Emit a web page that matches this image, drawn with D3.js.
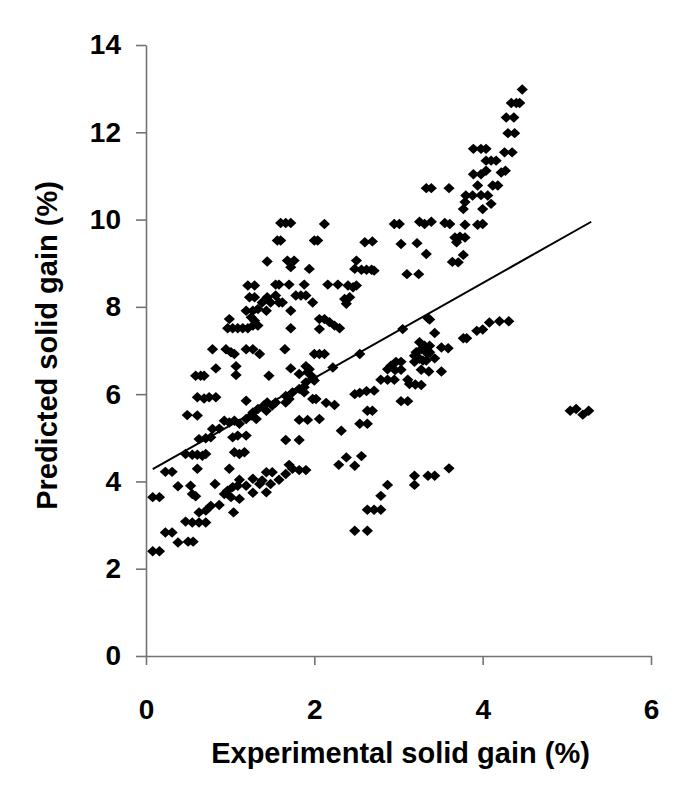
<!DOCTYPE html>
<html><head><meta charset="utf-8">
<script src="https://cdn.jsdelivr.net/npm/d3@7"></script>
<style>body{margin:0;background:#fff} svg{display:block}</style>
</head><body><svg id="c" width="675" height="802"></svg>
<script>
const xTicks = [0, 2, 4, 6];
const yTicks = [0, 2, 4, 6, 8, 10, 12, 14];
const xTitle = "Experimental solid gain (%)";
const yTitle = "Predicted solid gain (%)";

// [experimental, predicted] solid gain (%)
const lowerBand = [[0.08,2.40],[0.16,2.40],[0.38,2.60],[0.50,2.62],[0.56,2.62],[0.23,2.83],[0.31,2.83],[0.08,3.64],[0.16,3.64],[0.23,4.22],[0.31,4.22],[0.38,3.89],[0.53,3.90],[0.55,3.71],[0.59,3.66],[0.47,3.08],[0.55,3.06],[0.63,3.06],[0.71,3.06],[0.63,3.29],[0.71,3.33],[0.77,3.44],[0.87,3.46],[0.82,3.94],[0.93,3.71],[0.97,3.79],[1.03,3.87],[1.01,3.64],[1.09,3.90],[1.11,4.04],[1.11,3.60],[1.19,3.90],[1.27,4.06],[1.27,3.74],[1.35,3.94],[1.38,4.02],[1.43,4.21],[1.43,3.75],[1.48,3.94],[1.50,4.21],[1.58,4.04],[1.66,4.17],[1.70,4.38],[1.74,4.29],[1.82,4.26],[1.90,4.26],[1.04,3.29],[0.99,4.29]];
const middleBand = [[0.59,6.42],[0.65,6.42],[0.69,6.42],[0.83,6.59],[1.07,6.64],[1.07,6.44],[1.46,6.42],[1.72,6.59],[1.82,6.46],[1.90,6.64],[1.94,6.57],[1.98,6.39],[2.00,6.31],[2.22,6.61],[0.61,5.93],[0.69,5.90],[0.75,5.93],[0.83,5.93],[1.19,5.85],[0.49,5.52],[0.61,5.51],[0.79,5.20],[0.87,5.21],[0.63,4.97],[0.71,4.99],[0.77,5.01],[0.47,4.63],[0.55,4.61],[0.61,4.61],[0.67,4.59],[0.71,4.63],[0.61,4.29],[0.93,5.39],[0.99,5.35],[1.05,5.39],[1.11,5.32],[1.03,5.01],[1.09,5.05],[1.05,4.67],[1.11,4.63],[1.17,4.67],[1.19,5.05],[1.19,5.43],[1.25,5.51],[1.27,5.58],[1.31,5.43],[1.33,5.66],[1.40,5.74],[1.44,5.81],[1.43,5.62],[1.50,5.74],[1.54,5.81],[1.66,5.96],[1.70,5.89],[1.66,5.81],[1.74,6.04],[1.82,6.12],[1.88,6.16],[1.90,6.27],[1.98,6.35],[1.98,5.89],[2.02,5.89],[2.06,5.43],[2.14,5.80],[2.24,5.75],[1.82,5.41],[1.92,5.41],[1.66,4.95],[1.82,4.95],[2.29,4.38],[2.32,5.16],[1.92,6.50],[1.88,6.04]];
const upperBand = [[1.60,9.92],[1.66,9.92],[1.72,9.92],[2.12,9.90],[1.56,9.52],[1.60,9.52],[2.00,9.52],[2.04,9.52],[1.44,9.04],[1.68,9.06],[1.76,9.06],[1.72,8.91],[1.94,8.87],[1.21,8.49],[1.29,8.49],[1.54,8.51],[1.58,8.51],[1.70,8.51],[1.88,8.51],[2.16,8.51],[2.28,8.51],[1.23,8.22],[1.29,8.22],[1.38,8.10],[1.44,8.22],[1.48,8.10],[1.54,8.26],[1.58,8.10],[1.62,8.10],[1.78,8.26],[1.84,8.26],[1.90,8.26],[1.98,8.10],[1.19,7.91],[1.27,7.91],[1.33,7.95],[1.43,7.91],[1.72,7.91],[0.99,7.72],[1.25,7.76],[1.29,7.68],[0.97,7.51],[1.03,7.51],[1.09,7.51],[1.15,7.51],[1.21,7.51],[1.27,7.57],[1.33,7.57],[1.72,7.51],[2.06,7.72],[2.12,7.72],[2.18,7.65],[2.24,7.57],[2.30,7.51],[2.06,7.49],[0.79,7.03],[0.95,7.03],[1.01,6.96],[1.05,6.92],[1.19,7.03],[1.27,7.03],[1.35,6.92],[1.65,7.03],[2.00,6.92],[2.06,6.92],[2.12,6.92]];
const rightUpper = [[4.47,12.98],[4.34,12.67],[4.40,12.67],[4.44,12.67],[4.28,12.34],[4.37,12.34],[4.30,11.98],[4.38,11.98],[3.89,11.62],[3.98,11.62],[4.04,11.62],[4.26,11.54],[4.35,11.54],[4.04,11.35],[4.10,11.35],[4.16,11.35],[3.89,11.04],[3.98,11.04],[4.04,11.12],[4.22,11.08],[4.27,11.12],[3.94,10.78],[4.12,10.78],[4.18,10.78],[3.33,10.72],[3.39,10.72],[3.60,10.72],[3.80,10.55],[3.88,10.55],[3.98,10.56],[4.06,10.55],[3.79,10.40],[3.77,10.24],[4.10,10.36],[4.00,10.24],[2.95,9.90],[3.01,9.90],[3.25,9.95],[3.31,9.90],[3.39,9.95],[3.55,9.92],[3.61,9.90],[3.79,9.88],[3.94,9.88],[4.00,9.90],[2.60,9.48],[2.69,9.50],[3.03,9.44],[3.22,9.46],[3.67,9.59],[3.73,9.61],[3.79,9.59],[3.69,9.48],[3.33,9.21],[3.77,9.19],[3.64,9.03],[3.71,9.02],[2.50,9.06],[2.48,8.87],[2.56,8.85],[2.62,8.85],[2.68,8.85],[2.71,8.83],[3.10,8.75],[3.24,8.75],[2.40,8.49],[2.46,8.45],[2.50,8.49],[2.36,8.18],[2.42,8.22],[2.38,8.07]];
const rightLower = [[3.35,7.74],[3.37,7.71],[3.05,7.49],[2.54,6.92],[3.43,7.40],[3.77,7.28],[3.81,7.28],[3.93,7.45],[4.00,7.48],[4.08,7.64],[4.20,7.67],[4.31,7.67],[3.25,7.19],[3.31,7.11],[3.37,7.11],[3.31,7.00],[3.35,6.92],[3.51,7.07],[3.59,7.05],[3.21,6.96],[3.19,6.88],[3.25,6.81],[3.43,6.82],[2.97,6.74],[3.03,6.74],[2.91,6.65],[3.19,6.74],[3.33,6.77],[2.87,6.57],[2.96,6.55],[3.03,6.56],[3.27,6.56],[3.36,6.52],[3.51,6.52],[2.79,6.33],[2.87,6.33],[2.95,6.33],[3.11,6.33],[3.13,6.23],[3.20,6.22],[3.27,6.21],[2.48,6.00],[2.54,6.03],[2.62,6.07],[2.71,6.08],[3.03,5.84],[3.11,5.84],[2.63,5.62],[2.69,5.62],[2.54,5.32],[2.63,5.32],[2.38,4.55],[2.56,4.58],[2.48,4.36],[3.19,4.13],[3.19,3.92],[3.35,4.13],[3.43,4.13],[3.60,4.30],[2.87,3.92],[2.79,3.67],[2.63,3.35],[2.71,3.35],[2.79,3.35],[2.48,2.87],[2.63,2.87],[3.27,7.03],[3.37,6.96],[3.29,6.77]];
const outliers = [[5.04,5.62],[5.11,5.66],[5.19,5.53],[5.26,5.62]];

// fitted trend line end points
const lineX = [0.08, 5.29];
const lineY = [4.28, 9.95];

const points = [].concat(lowerBand, middleBand, upperBand, rightUpper, rightLower, outliers);

const svg = d3.select("#c");
const font = "'Liberation Sans', Arial, Helvetica, sans-serif";
const axisColor = "#737373";

const x = d3.scaleLinear().domain([0, 6]).range([146, 651]);
const y = d3.scaleLinear().domain([0, 14]).range([656, 45]);

// axes
const gx = svg.append("g").attr("transform", `translate(0,${y(0)})`)
  .call(d3.axisBottom(x).tickValues(xTicks).tickSize(9).tickSizeOuter(0).tickPadding(34).tickFormat(d3.format("d")));
const gy = svg.append("g").attr("transform", `translate(${x(0)},0)`)
  .call(d3.axisLeft(y).tickValues(yTicks).tickSize(10).tickSizeOuter(0).tickPadding(15).tickFormat(d3.format("d")));

[gx, gy].forEach(g => {
  g.select(".domain").attr("stroke", axisColor).attr("stroke-width", 1.6);
  g.selectAll(".tick line").attr("stroke", axisColor).attr("stroke-width", 1.6);
  g.selectAll(".tick text").attr("fill", "#000").style("font-family", font)
    .style("font-size", "28px").style("font-weight", "bold");
});

// trend line
svg.append("line")
  .attr("x1", x(lineX[0])).attr("y1", y(lineY[0]))
  .attr("x2", x(lineX[1])).attr("y2", y(lineY[1]))
  .attr("stroke", "#000").attr("stroke-width", 2);

// diamond markers
svg.append("g").selectAll("path").data(points).join("path")
  .attr("transform", d => `translate(${x(d[0])},${y(d[1])})`)
  .attr("d", "M0,-5.2L5.6,0L0,5.2L-5.6,0Z")
  .attr("fill", "#000");

// titles
svg.append("text").attr("x", (x(0) + x(6)) / 2 + 2).attr("y", 763)
  .attr("text-anchor", "middle").style("font-family", font)
  .style("font-size", "29px").style("font-weight", "bold").text(xTitle);
svg.append("text").attr("transform", `translate(57,${(y(0) + y(14)) / 2 - 5}) rotate(-90)`)
  .attr("text-anchor", "middle").style("font-family", font)
  .style("font-size", "29px").style("font-weight", "bold").text(yTitle);
</script>
</body></html>
